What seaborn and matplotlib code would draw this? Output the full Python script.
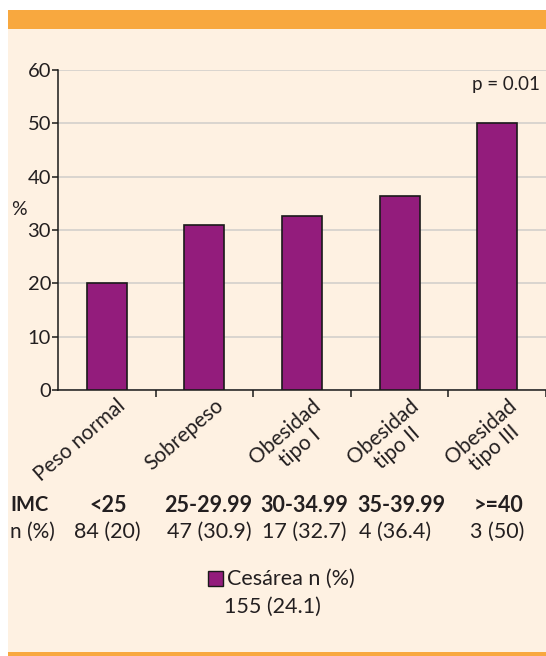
import matplotlib
matplotlib.use("Agg")
import matplotlib.pyplot as plt
import seaborn as sns
import pandas as pd
from matplotlib.patches import Rectangle

categories = ["Peso normal", "Sobrepeso", "Obesidad\ntipo I", "Obesidad\ntipo II", "Obesidad\ntipo III"]
cesarea_pct = [20, 30.9, 32.7, 36.4, 50]
cesarea_n = [84, 47, 17, 4, 3]
imc_ranges = ["<25", "25-29.99", "30-34.99", "35-39.99", ">=40"]
yticks = [0, 10, 20, 30, 40, 50, 60]
total_n, total_pct = 155, 24.1
p_value = "p = 0.01"

PURPLE = "#931C7C"
CREAM = "#FEF1E2"
ORANGE = "#F8A83F"
TEXT = "#231F20"

sns.set_theme(style="white")
plt.rcParams["font.family"] = ["Lato", "DejaVu Sans"]

fig = plt.figure(figsize=(5.46, 6.56), dpi=100)
fig.patch.set_facecolor("white")

# cream panel with orange bands
fig.add_artist(Rectangle((8 / 546, 0), 1, 1 - 10 / 656, transform=fig.transFigure,
                         facecolor=CREAM, edgecolor="none", zorder=-10))
fig.add_artist(Rectangle((8 / 546, 1 - 29 / 656), 1, 19 / 656, transform=fig.transFigure,
                         facecolor=ORANGE, edgecolor="none", zorder=-9))
fig.add_artist(Rectangle((8 / 546, 0), 1, 4 / 656, transform=fig.transFigure,
                         facecolor=ORANGE, edgecolor="none", zorder=-9))

ax = fig.add_axes([58 / 546, 1 - 390 / 656, 1 - 58 / 546, 320 / 656])
ax.set_facecolor("none")

df = pd.DataFrame({"cat": categories, "pct": cesarea_pct})
sns.barplot(data=df, x="cat", y="pct", color=PURPLE, saturation=1, width=0.41,
            edgecolor="#1a1a1a", linewidth=1.2, ax=ax, zorder=3)

ax.set_ylim(0, 60)
ax.set_xlim(-0.5, 4.5)
ax.set_yticks(yticks)
ax.set_yticklabels([str(t) for t in yticks], fontsize=14.5, color=TEXT)
ax.yaxis.grid(True, color="#D3D0CC", linewidth=1.2, zorder=0)
ax.set_axisbelow(True)
for s in ["top", "right"]:
    ax.spines[s].set_visible(False)
for s in ["left", "bottom"]:
    ax.spines[s].set_color("#1a1a1a")
    ax.spines[s].set_linewidth(1.1)
ax.tick_params(axis="y", length=4, width=1.1, color="#1a1a1a", left=True, pad=1)

# category boundary ticks on x axis
ax.set_xticks([0.5, 1.5, 2.5, 3.5, 4.5])
ax.set_xticklabels([])
ax.tick_params(axis="x", length=5, width=1.1, color="#1a1a1a", bottom=True, direction="out")
for i, lab in enumerate(categories):
    ax.text(i + 0.1, -1.0, lab, rotation=41, ha="right", va="top", rotation_mode="anchor",
            fontsize=15, color=TEXT, multialignment="center", linespacing=1.12,
            transform=ax.transData, clip_on=False)

ax.set_xlabel("")
ax.set_ylabel("")
fig.text(11 / 546, 1 - 210 / 656, "%", fontsize=14, color=TEXT, va="center", ha="left")
ax.text(4.44, 57.2, p_value, ha="right", va="center", fontsize=13.5, color=TEXT)

# IMC / n (%) table below the axis
row1_y = 1 - 505 / 656
row2_y = 1 - 532 / 656
fig.text(10 / 546, row1_y, "IMC", fontsize=14.5, fontweight="bold", color=TEXT, va="center")
fig.text(10 / 546, row2_y, "n (%)", fontsize=15, color=TEXT, va="center")
col1_x = [108, 208, 304, 401, 498]
col2_x = [107, 209, 304, 395, 497]
for c1, c2, r, n, p in zip(col1_x, col2_x, imc_ranges, cesarea_n, cesarea_pct):
    fig.text(c1 / 546, row1_y, r, fontsize=15.5, fontweight="bold", color=TEXT, va="center", ha="center")
    fig.text(c2 / 546, row2_y, f"{n} ({p:g})", fontsize=15.5, color=TEXT, va="center", ha="center")

# legend entry
fig.add_artist(Rectangle((208 / 546, 1 - 586 / 656), 15 / 546, 15 / 656, transform=fig.transFigure,
                         facecolor=PURPLE, edgecolor="#1a1a1a", linewidth=1.0))
fig.text(227 / 546, 1 - 579 / 656, "Cesárea n (%)", fontsize=15.5, color=TEXT, va="center", ha="left")
fig.text(272 / 546, 1 - 607 / 656, f"{total_n} ({total_pct})", fontsize=15.5, color=TEXT,
         va="center", ha="center")

fig.savefig("out.png", dpi=100, facecolor="white")
